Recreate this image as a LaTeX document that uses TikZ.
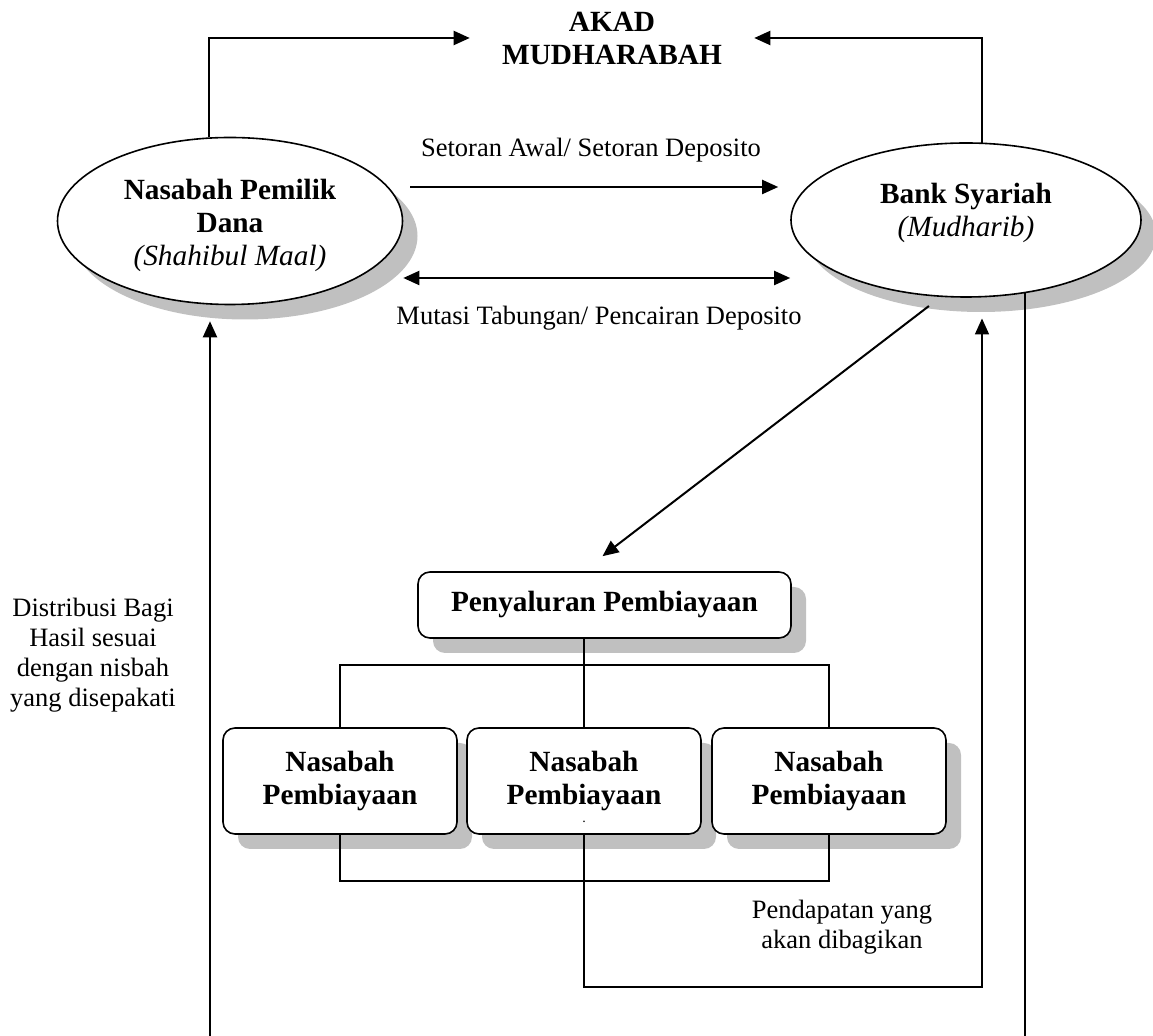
\documentclass[tikz,border=0pt]{standalone}
\usepackage{fontspec}
\setmainfont{Liberation Serif}
\usetikzlibrary{arrows.meta,shapes.geometric,shadows,calc}

\definecolor{bayangan}{HTML}{C0C0C0}
\newcommand{\tebal}{\fontsize{14.65}{16.5}\selectfont\bfseries}
\newcommand{\biasa}{\fontsize{13.25}{15}\selectfont}
\tikzset{
  bayang/.style={drop shadow={shadow xshift=7.5pt,shadow yshift=-7.5pt,fill=bayangan,opacity=1}},
  lingkaran/.style={ellipse,draw,line width=0.8pt,fill=white,inner sep=0pt,align=center,font=\tebal,bayang},
  kotak/.style={draw,rounded corners=6pt,line width=0.8pt,fill=white,inner sep=0pt,align=center,font=\tebal,bayang},
  ket/.style={align=center,font=\biasa,inner sep=0pt},
  panah/.style={-{Triangle[length=8pt,width=7pt]},line width=1pt},
  panahdua/.style={{Triangle[length=8pt,width=7pt]}-{Triangle[length=8pt,width=7pt]},line width=1pt},
  garis/.style={line width=0.65pt},
}

\begin{document}
\begin{tikzpicture}[x=0.5pt,y=-0.5pt]
				\useasboundingbox (0,0) rectangle (1153,1036);
				\node[font=\tebal,align=center,inner sep=0pt] (akad) at (612,38) {AKAD\\MUDHARABAH};
				\node[lingkaran,minimum width=172.5pt,minimum height=83.5pt] (pemilik) at (230,221) {\rule{0pt}{14.5pt}Nasabah Pemilik\\Dana\\{\mdseries\itshape (Shahibul Maal)}};
				\node[lingkaran,minimum width=175pt,minimum height=77pt] (bank) at (966,220) {Bank Syariah\\{\mdseries\itshape (Mudharib)}\\[-6pt]\mbox{}};
				\node[kotak,minimum width=186.5pt,minimum height=33pt] (salur) at (604.5,605) {Penyaluran Pembiayaan};
				\node[kotak,minimum width=117pt,minimum height=53pt] (nb1) at (340,781) {Nasabah\\Pembiayaan};
				\node[kotak,minimum width=117pt,minimum height=53pt,label={[font=\fontsize{7}{7}\selectfont,inner sep=0pt,yshift=-20.5pt]center:.}] (nb2) at (584,781) {Nasabah\\Pembiayaan};
				\node[kotak,minimum width=117pt,minimum height=53pt] (nb3) at (829,781) {Nasabah\\Pembiayaan};
				% keterangan
				\node[ket] (setoran) at (591,150) {Setoran Awal/ Setoran Deposito};
				\node[ket] (mutasi) at (599,318) {Mutasi Tabungan/ Pencairan Deposito};
				\node[ket] (distribusi) at (93,655) {Distribusi Bagi\\Hasil sesuai\\dengan nisbah\\yang disepakati};
				\node[ket] (pendapatan) at (842,927) {Pendapatan yang\\akan dibagikan};
				\coordinate (cabang) at (584,665);
				\coordinate (kumpul) at (584,881);
				\coordinate (balik) at (982,987);
				\coordinate (kiribawah) at (210,1036);
				\coordinate (kananbawah) at (1025,1036);
				% akad
				\draw[panah] (pemilik.104) |- ([xshift=-16pt]akad.west);
				\draw[panah] (bank.78) |- ([xshift=16pt]akad.east);
				% dana
				\draw[panah] ([shift={(7,-34)}]pemilik.east) -- ([shift={(-12,-33)}]bank.west);
				\draw[panahdua] ([shift={(0,57)}]pemilik.east) -- ([shift={(0,58)}]bank.west);
				\draw[panah] ($(bank.244)+(0,10)$) -- ($(salur.north)+(-2,-15)$);
				% pembiayaan
				\draw[garis] (salur.south -| nb2.north) -- (nb2.north);
				\draw[garis] (nb1.north) |- (cabang) -| (nb3.north);
				\draw[garis] (nb1.south) |- (kumpul) -| (nb3.south);
				\draw[panah,line width=0.8pt] (nb2.south) |- (balik) -- ($(bank.282 -| balik)+(0,21)$);
				% bagi hasil
				\draw[panah] (kiribawah) -- ($(pemilik.south -| kiribawah)+(0,16)$);
				\draw[line width=1pt] (bank.309) -- (bank.309 |- kananbawah);
			\end{tikzpicture}
\end{document}
